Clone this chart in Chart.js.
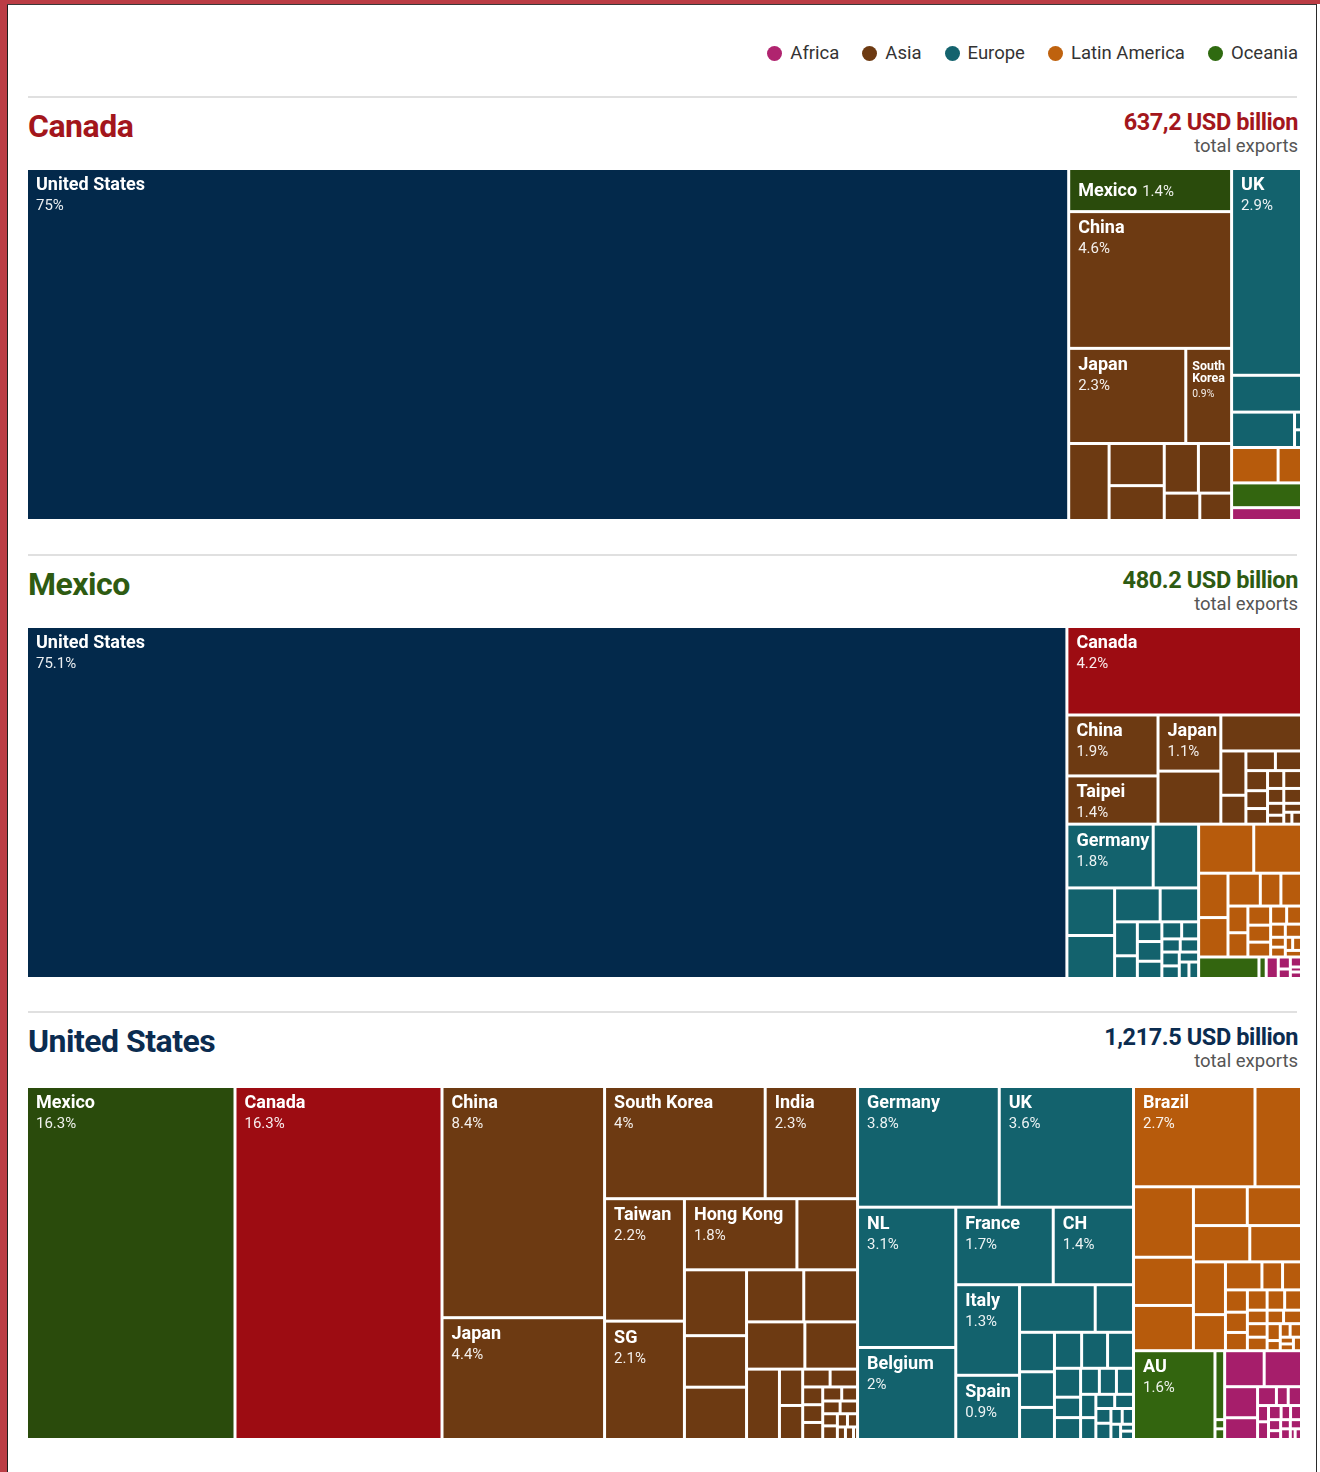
<!DOCTYPE html>
<html lang="en">
<head>
<meta charset="utf-8">
<title>Export partners</title>
<script src="https://cdn.jsdelivr.net/npm/chart.js@4.4.1/dist/chart.umd.min.js"></script>
<style>
  html, body { margin:0; padding:0; background:#fff; }
  body { width:1320px; height:1472px; position:relative; overflow:hidden; font-family: Roboto, "Noto Sans", sans-serif; }
  .abs { position:absolute; }
  #redLeft { left:0; top:0; width:7px; height:1472px; background:#bb3d45; }
  #redTop { left:0; top:0; width:1320px; height:4px; background:#bb3d45; }
  #lineLeft { left:7px; top:4px; width:1px; height:1468px; background:#1e1e1e; }
  #lineTop { left:7px; top:4px; width:1310px; height:1px; background:#3a3a3a; }
  #lineRight { left:1316px; top:4px; width:1px; height:1468px; background:#2a2a2a; }
  #legend { right:22px; top:43px; height:20px; display:flex; align-items:center; font-size:18.5px; color:#333; line-height:20px; }
  .lg-item { display:flex; align-items:center; margin-left:23px; white-space:nowrap; }
  .lg-item:first-child { margin-left:0; }
  .lg-dot { width:15px; height:15px; border-radius:50%; margin-right:8px; }
  .sep { left:28px; width:1269px; height:2px; background:#e0e0e0; }
  .title { left:28px; font-weight:700; font-size:32px; line-height:32px; letter-spacing:-0.5px; white-space:nowrap; }
  .total { right:22px; font-weight:700; font-size:23.5px; line-height:24px; text-align:right; white-space:nowrap; letter-spacing:-0.4px; }
  .sub { right:22px; font-size:18.5px; line-height:18px; color:#555; text-align:right; white-space:nowrap; }
  canvas.tm { position:absolute; left:28px; }
</style>
</head>
<body>
<div class="abs" id="redLeft"></div>
<div class="abs" id="redTop"></div>
<div class="abs" id="lineLeft"></div>
<div class="abs" id="lineTop"></div>
<div class="abs" id="lineRight"></div>
<div class="abs" id="legend"></div>

<script>
// ---------------- DATA ----------------
const legendRegions = ['Africa', 'Asia', 'Europe', 'Latin America', 'Oceania'];

const sectionTitles = ['Canada', 'Mexico', 'United States'];
const sectionTotals = ['637,2 USD billion', '480.2 USD billion', '1,217.5 USD billion'];
const sectionSubtitle = 'total exports';

// Canada: partner shares of exports (%), unnamed cells are unlabelled partners
const canadaFeaturedNames = ['United States', 'Mexico'];
const canadaFeaturedSizes = [75, 1.4];
const canadaAsiaNames = ['China', 'Japan', 'South Korea'];
const canadaAsiaSizes = [4.6, 2.3, 0.9, 0.63, 0.48, 0.38, 0.35, 0.34, 0.19, 0.17];
const canadaEuropeNames = ['UK'];
const canadaEuropeSizes = [2.9, 0.52, 0.46, 0.02, 0.02];
const canadaLatinAmericaSizes = [0.34, 0.16];
const canadaOceaniaSizes = [0.35];
const canadaAfricaSizes = [0.16];
const canadaLayout = ['United States', ['Mexico', 'Asia'], ['Europe', 'Latin America', 'Oceania', 'Africa']];

// Mexico: sizes, printed shares as labelled
const mexicoFeaturedNames = ['United States', 'Canada'];
const mexicoFeaturedSizes = [75.1, 4.2];
const mexicoAsiaNames = ['China', 'Taipei', 'Japan'];
const mexicoAsiaPrinted = [1.9, 1.4, 1.1];
const mexicoAsiaSizes = [1.15, 0.91, 0.73, 0.69, 0.59, 0.23, 0.15, 0.12, 0.1, 0.09, 0.08, 0.07, 0.06, 0.06, 0.05, 0.05, 0.04, 0.03, 0.03, 0.02, 0.02];
const mexicoEuropeNames = ['Germany'];
const mexicoEuropePrinted = [1.8];
const mexicoEuropeSizes = [1.14, 0.6, 0.47, 0.41, 0.32, 0.27, 0.16, 0.1, 0.1, 0.1, 0.08, 0.07, 0.06, 0.05, 0.05, 0.05, 0.04, 0.04, 0.03, 0.03];
const mexicoLatinAmericaSizes = [0.56, 0.47, 0.27, 0.24, 0.22, 0.14, 0.13, 0.11, 0.1, 0.09, 0.08, 0.07, 0.06, 0.05, 0.04, 0.04, 0.03, 0.03, 0.02, 0.02, 0.02];
const mexicoOceaniaSizes = [0.25, 0.03];
const mexicoAfricaSizes = [0.05, 0.03, 0.02, 0.02, 0.01, 0.01];
const mexicoLayout = ['United States', ['Canada', 'Asia', ['Europe', ['Latin America', ['Oceania', 'Africa']]]]];

// United States
const usFeaturedNames = ['Mexico', 'Canada'];
const usFeaturedSizes = [16.3, 16.3];
const usAsiaNames = ['China', 'Japan', 'South Korea', 'India', 'Taiwan', 'SG', 'Hong Kong'];
const usAsiaSizes = [8.4, 4.4, 4, 2.3, 2.2, 2.1, 1.8, 0.97, 0.92, 0.72, 0.71, 0.67, 0.63, 0.62, 0.56, 0.51, 0.19, 0.17, 0.11, 0.11, 0.08, 0.08, 0.07, 0.06, 0.05, 0.05, 0.05, 0.04, 0.04, 0.03, 0.03, 0.02, 0.02, 0.01];
const usEuropeNames = ['Germany', 'UK', 'NL', 'Belgium', 'France', 'CH', 'Italy', 'Spain'];
const usEuropeSizes = [3.8, 3.6, 3.1, 2, 1.7, 1.4, 1.3, 0.9, 0.81, 0.41, 0.31, 0.28, 0.24, 0.22, 0.21, 0.21, 0.17, 0.12, 0.12, 0.11, 0.1, 0.1, 0.08, 0.07, 0.06, 0.06, 0.05, 0.05, 0.04, 0.04, 0.03, 0.02, 0.02];
const usLatinAmericaNames = ['Brazil'];
const usLatinAmericaSizes = [2.7, 1.0, 0.95, 0.65, 0.61, 0.47, 0.46, 0.46, 0.41, 0.38, 0.26, 0.23, 0.13, 0.11, 0.11, 0.1, 0.09, 0.09, 0.08, 0.07, 0.06, 0.06, 0.06, 0.05, 0.05, 0.05, 0.03, 0.03, 0.03, 0.02, 0.02, 0.02];
const usOceaniaNames = ['AU'];
const usOceaniaSizes = [1.6, 0.15, 0.02, 0.02];
const usAfricaSizes = [0.32, 0.29, 0.23, 0.15, 0.08, 0.05, 0.05, 0.04, 0.04, 0.04, 0.03, 0.03, 0.03, 0.02, 0.02, 0.02, 0.02, 0.01, 0.01];
const usLayout = ['Mexico', 'Canada', 'Asia', 'Europe', ['Latin America', ['Oceania', 'Africa']]];

// ---------------- STYLE ----------------
const fillColors = {
  'United States': '#03294b', 'Canada': '#9d0c12', 'Mexico': '#2a4b0c',
  'Africa': '#a61e6b', 'Asia': '#6d3a12', 'Europe': '#13626d', 'Latin America': '#b75b0c', 'Oceania': '#33650f'
};
const legendColors = { 'Africa': '#b0246f', 'Asia': '#6d3a12', 'Europe': '#14636e', 'Latin America': '#bf620e', 'Oceania': '#2f6a10' };
const titleColors = ['#a3161c', '#2e5b12', '#0b2c50'];
const sectionGeom = [
  { sep: 96, tmTop: 170, tmH: 349 },
  { sep: 554, tmTop: 628, tmH: 349 },
  { sep: 1011, tmTop: 1088, tmH: 350 }
];
const TM_WIDTH = 1272;

// ---------------- HELPERS ----------------
function cellsOf(sizes, names, printed) {
  return sizes.map((v, i) => ({ size: v, name: (names && names[i]) || '', printed: printed && printed[i] != null ? printed[i] : v }));
}
function featured(names, sizes, groups) {
  names.forEach((n, i) => { groups[n] = [{ size: sizes[i], name: n, printed: sizes[i] }]; });
}
const sumSizes = arr => arr.reduce((s, c) => s + c.size, 0);
function nodeValue(node, groups) {
  if (typeof node === 'string') return sumSizes(groups[node] || []);
  return node.reduce((s, ch) => s + nodeValue(ch, groups), 0);
}
function worst(row, rowSum, side, scale) {
  const len = rowSum * scale / side;
  let w = 0;
  row.forEach(c => { const l = c.size * scale / len; w = Math.max(w, len / l, l / len); });
  return w;
}
function squarify(items, key, x, y, w, h, out) {
  let rem = sumSizes(items);
  let i = 0;
  while (i < items.length) {
    const side = Math.min(w, h);
    const scale = (w * h) / rem;
    let row = [items[i]], rowSum = items[i].size;
    let best = worst(row, rowSum, side, scale);
    let j = i + 1;
    while (j < items.length) {
      const cand = row.concat([items[j]]);
      const s2 = rowSum + items[j].size;
      const r2 = worst(cand, s2, side, scale);
      if (r2 > best) break;
      row = cand; rowSum = s2; best = r2; j++;
    }
    const rowArea = rowSum * scale;
    if (w >= h) {
      const cw = rowArea / h; let cy = y;
      row.forEach(c => { const ch = c.size * scale / cw; out.push(Object.assign({ key, x, y: cy, w: cw, h: ch }, c)); cy += ch; });
      x += cw; w -= cw;
    } else {
      const rh = rowArea / w; let cx = x;
      row.forEach(c => { const cw2 = c.size * scale / rh; out.push(Object.assign({ key, x: cx, y, w: cw2, h: rh }, c)); cx += cw2; });
      y += rh; h -= rh;
    }
    rem -= rowSum; i = j;
  }
}
function place(node, groups, x, y, w, h, depth, out) {
  if (typeof node === 'string') { squarify(groups[node], node, x, y, w, h, out); return; }
  const total = nodeValue(node, groups);
  let off = 0;
  node.forEach(ch => {
    const f = nodeValue(ch, groups) / total;
    if (depth % 2 === 0) { place(ch, groups, x + off, y, w * f, h, depth + 1, out); off += w * f; }
    else { place(ch, groups, x, y + off, w, h * f, depth + 1, out); off += h * f; }
  });
}

function drawLabel(ctx, L, T, w, h, name, pctText) {
  let pad = 8;
  ctx.save();
  ctx.beginPath(); ctx.rect(L, T, w, h); ctx.clip();
  ctx.textBaseline = 'alphabetic';
  ctx.textAlign = 'left';
  let nameSize = 18, pctSize = 15;
  ctx.font = 'bold 18px Roboto';
  // shrink the label only for very narrow cells so each word still fits
  const longest = Math.max(...name.split(' ').map(wd => ctx.measureText(wd).width));
  if (longest > w - pad - 2) {
    pad = 5;
    const f = Math.max(0.55, (w - 2 * pad) / longest);
    nameSize = 18 * f; pctSize = Math.max(10, 15 * f);
  }
  const bold = 'bold ' + nameSize + 'px Roboto', reg = pctSize + 'px Roboto';
  const maxW = w - 2 * pad;
  ctx.font = bold;
  ctx.fillStyle = '#ffffff';
  const nameW = ctx.measureText(name).width;
  if (h < 44) {
    const base = T + h / 2 + 6;
    ctx.fillText(name, L + pad, base);
    ctx.font = reg;
    ctx.fillStyle = 'rgba(255,255,255,0.92)';
    ctx.fillText(pctText, L + pad + nameW + 5, base);
    ctx.restore();
    return;
  }
  const words = name.split(' ');
  const lines = []; let cur = '';
  words.forEach(wd => {
    const t = cur ? cur + ' ' + wd : wd;
    if (cur && ctx.measureText(t).width > maxW) { lines.push(cur); cur = wd; } else cur = t;
  });
  lines.push(cur);
  const lh = nameSize * 17 / 18;
  let base = T + 20;
  lines.forEach((ln, k) => { ctx.fillText(ln, L + pad, base); if (k < lines.length - 1) base += lh; });
  ctx.font = reg;
  ctx.fillStyle = 'rgba(255,255,255,0.92)';
  ctx.fillText(pctText, L + pad, base + pctSize + 5);
  ctx.restore();
}

function makeTreemapPlugin(groups, layoutTree) {
  return {
    id: 'treemapCells',
    afterDatasetsDraw(chart) {
      const { ctx, chartArea: area, scales: { x, y } } = chart;
      const cells = [];
      place(layoutTree, groups, x.min, y.min, x.max - x.min, y.max - y.min, 0, cells);
      ctx.save();
      const labels = [];
      cells.forEach(c => {
        const L = x.getPixelForValue(c.x), R = x.getPixelForValue(c.x + c.w);
        const T = y.getPixelForValue(c.y), B = y.getPixelForValue(c.y + c.h);
        const il = L - area.left < 0.5 ? 0 : 1.5, ir = area.right - R < 0.5 ? 0 : 1.5;
        const it = T - area.top < 0.5 ? 0 : 1.5, ib = area.bottom - B < 0.5 ? 0 : 1.5;
        const rw = R - L - il - ir, rh = B - T - it - ib;
        if (rw <= 0.2 || rh <= 0.2) return;
        ctx.fillStyle = fillColors[c.key];
        ctx.fillRect(L + il, T + it, rw, rh);
        if (c.name) labels.push([L + il, T + it, rw, rh, c.name, String(c.printed) + '%']);
      });
      labels.forEach(a => drawLabel(ctx, ...a));
      ctx.restore();
    }
  };
}

function buildTreemap(idx, groups, layoutTree) {
  const g = sectionGeom[idx];
  const canvas = document.createElement('canvas');
  canvas.className = 'tm';
  canvas.width = TM_WIDTH; canvas.height = g.tmH;
  canvas.style.top = g.tmTop + 'px';
  canvas.style.width = TM_WIDTH + 'px'; canvas.style.height = g.tmH + 'px';
  document.body.appendChild(canvas);
  return new Chart(canvas, {
    type: 'scatter',
    data: { datasets: [] },
    options: {
      responsive: false, animation: false, events: [],
      devicePixelRatio: 1,
      layout: { padding: 0 },
      plugins: { legend: { display: false }, tooltip: { enabled: false } },
      scales: {
        x: { type: 'linear', min: 0, max: TM_WIDTH / g.tmH, display: false },
        y: { type: 'linear', min: 0, max: 1, reverse: true, display: false }
      }
    },
    plugins: [makeTreemapPlugin(groups, layoutTree)]
  });
}

// ---------------- PAGE ----------------
const legendEl = document.getElementById('legend');
legendRegions.forEach(r => {
  const it = document.createElement('div'); it.className = 'lg-item';
  const dot = document.createElement('span'); dot.className = 'lg-dot'; dot.style.background = legendColors[r];
  it.appendChild(dot); it.appendChild(document.createTextNode(r));
  legendEl.appendChild(it);
});

sectionTitles.forEach((t, i) => {
  const g = sectionGeom[i];
  const sep = document.createElement('div'); sep.className = 'abs sep'; sep.style.top = g.sep + 'px'; document.body.appendChild(sep);
  const ti = document.createElement('div'); ti.className = 'abs title'; ti.style.top = (g.sep + 14) + 'px'; ti.style.color = titleColors[i]; ti.textContent = t; document.body.appendChild(ti);
  const to = document.createElement('div'); to.className = 'abs total'; to.style.top = (g.sep + 14) + 'px'; to.style.color = titleColors[i]; to.textContent = sectionTotals[i]; document.body.appendChild(to);
  const su = document.createElement('div'); su.className = 'abs sub'; su.style.top = (g.sep + 41) + 'px'; su.textContent = sectionSubtitle; document.body.appendChild(su);
});

const canadaGroups = {};
featured(canadaFeaturedNames, canadaFeaturedSizes, canadaGroups);
canadaGroups['Asia'] = cellsOf(canadaAsiaSizes, canadaAsiaNames);
canadaGroups['Europe'] = cellsOf(canadaEuropeSizes, canadaEuropeNames);
canadaGroups['Latin America'] = cellsOf(canadaLatinAmericaSizes);
canadaGroups['Oceania'] = cellsOf(canadaOceaniaSizes);
canadaGroups['Africa'] = cellsOf(canadaAfricaSizes);

const mexicoGroups = {};
featured(mexicoFeaturedNames, mexicoFeaturedSizes, mexicoGroups);
mexicoGroups['Asia'] = cellsOf(mexicoAsiaSizes, mexicoAsiaNames, mexicoAsiaPrinted);
mexicoGroups['Europe'] = cellsOf(mexicoEuropeSizes, mexicoEuropeNames, mexicoEuropePrinted);
mexicoGroups['Latin America'] = cellsOf(mexicoLatinAmericaSizes);
mexicoGroups['Oceania'] = cellsOf(mexicoOceaniaSizes);
mexicoGroups['Africa'] = cellsOf(mexicoAfricaSizes);

const usGroups = {};
featured(usFeaturedNames, usFeaturedSizes, usGroups);
usGroups['Asia'] = cellsOf(usAsiaSizes, usAsiaNames);
usGroups['Europe'] = cellsOf(usEuropeSizes, usEuropeNames);
usGroups['Latin America'] = cellsOf(usLatinAmericaSizes, usLatinAmericaNames);
usGroups['Oceania'] = cellsOf(usOceaniaSizes, usOceaniaNames);
usGroups['Africa'] = cellsOf(usAfricaSizes);

buildTreemap(0, canadaGroups, canadaLayout);
buildTreemap(1, mexicoGroups, mexicoLayout);
buildTreemap(2, usGroups, usLayout);
</script>
</body>
</html>
